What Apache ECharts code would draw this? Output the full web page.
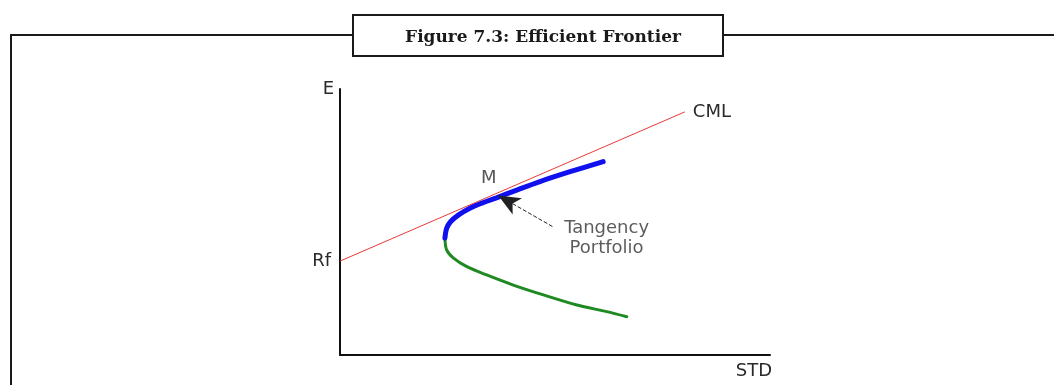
<!DOCTYPE html>
<html>
<head>
<meta charset="utf-8">
<script src="https://cdn.jsdelivr.net/npm/echarts@6/dist/echarts.min.js"></script>
<style>
html,body{margin:0;padding:0;background:#fff;}
#chart{width:1054px;height:385px;}
</style>
</head>
<body>
<div id="chart"></div>
<script>
// ---- data ----
const titleText = 'Figure 7.3: Efficient Frontier';
const xAxisName = 'STD';
const yAxisName = 'E';
const riskFree = 35.3;               // Rf intercept on the E axis
const cmlPoints = [[0, 35.3], [80.2, 91.4]];
const efficientStd = [24.4, 24.8, 25.7, 27.5, 30.2, 33.3, 36.4, 41.1, 46.5, 53.5, 61.2];
const efficientE   = [44.0, 47.6, 50.1, 52.6, 55.2, 57.3, 59.1, 62.0, 65.2, 68.9, 72.7];
const inefficientStd = [24.4, 24.8, 26.4, 29.5, 34.1, 40.3, 47.3, 55.1, 62.0, 66.7];
const inefficientE   = [44.0, 39.5, 36.4, 33.2, 30.1, 26.3, 22.6, 18.8, 16.3, 14.4];
const tangency = [36.8, 60.0];
const labelM = 'M';
const labelTangency = 'Tangency\nPortfolio';
const labelCML = 'CML';
const labelRf = 'Rf';

const zip = (xs, ys) => xs.map((x, i) => [x, ys[i]]);

const chart = echarts.init(document.getElementById('chart'), null, {renderer: 'canvas'});
const sans = 'DejaVu Sans';
const txt = '#2a2a2a';
const fs = 18;

chart.setOption({
  animation: false,
  backgroundColor: '#fff',
  title: {
    text: titleText,
    left: 538,
    top: 24,
    textAlign: 'center',
    textStyle: {fontFamily: 'DejaVu Serif', fontWeight: 'bold', fontSize: 17, color: '#1a1a1a'}
  },
  graphic: [
    {type: 'polyline', z: 0, shape: {points: [[11, 386], [11, 35], [353, 35]]},
     style: {stroke: '#1a1a1a', lineWidth: 2, fill: null}},
    {type: 'polyline', z: 0, shape: {points: [[723, 35], [1056, 35]]},
     style: {stroke: '#1a1a1a', lineWidth: 2, fill: null}},
    {type: 'rect', z: 1, shape: {x: 353, y: 15, width: 370, height: 41},
     style: {stroke: '#1a1a1a', lineWidth: 2, fill: '#fff'}}
  ],
  grid: {left: 340, top: 89, width: 430, height: 266, containLabel: false},
  xAxis: {
    type: 'value', min: 0, max: 100,
    name: xAxisName, nameLocation: 'end', nameGap: 0,
    nameTextStyle: {fontFamily: sans, fontSize: fs, color: txt, align: 'right', verticalAlign: 'top', padding: [7, -2, 0, 0]},
    axisLine: {show: true, lineStyle: {color: '#111', width: 2}},
    axisTick: {show: false}, axisLabel: {show: false}, splitLine: {show: false}
  },
  yAxis: {
    type: 'value', min: 0, max: 100,
    name: yAxisName, nameLocation: 'end', nameGap: 0,
    nameTextStyle: {fontFamily: sans, fontSize: fs, color: txt, align: 'right', verticalAlign: 'middle', padding: [0, 6, 0, 0]},
    axisLine: {show: true, lineStyle: {color: '#111', width: 2}},
    axisTick: {show: false},
    axisLabel: {show: true, customValues: [riskFree], formatter: () => labelRf,
      fontFamily: sans, fontSize: fs, color: txt, margin: 9},
    splitLine: {show: false}
  },
  series: [
    {
      name: 'CML', type: 'line', data: cmlPoints, showSymbol: false, z: 3,
      lineStyle: {color: '#e83a3a', width: 1},
      endLabel: {show: true, formatter: () => labelCML, fontFamily: sans, fontSize: fs, color: txt, distance: 8}
    },
    {
      name: 'Efficient', type: 'line', data: zip(efficientStd, efficientE), smooth: 0.3, showSymbol: false, z: 2,
      lineStyle: {color: '#1010ee', width: 5, cap: 'round'}
    },
    {
      name: 'Inefficient', type: 'line', data: zip(inefficientStd, inefficientE), smooth: 0.3, showSymbol: false, z: 1,
      lineStyle: {color: '#1f8a22', width: 3, cap: 'round'},
      markLine: {
        silent: true, symbol: ['none', 'arrow'], symbolSize: [14, 22],
        lineStyle: {color: '#222', width: 1, type: [4, 2]},
        itemStyle: {color: '#000'},
        label: {show: false},
        data: [[{coord: [49.4, 48.3]}, {coord: tangency}]]
      }
    },
    {
      name: 'Labels', type: 'scatter', symbolSize: 0, z: 5, silent: true,
      label: {show: true, position: 'inside', fontFamily: sans, fontSize: fs, color: txt, lineHeight: 20},
      data: [
        {value: [34.6, 66.3], label: {formatter: labelM}},
        {value: [62.0, 43.8], label: {formatter: labelTangency, color: '#333'}}
      ]
    }
  ]
});
</script>
</body>
</html>
